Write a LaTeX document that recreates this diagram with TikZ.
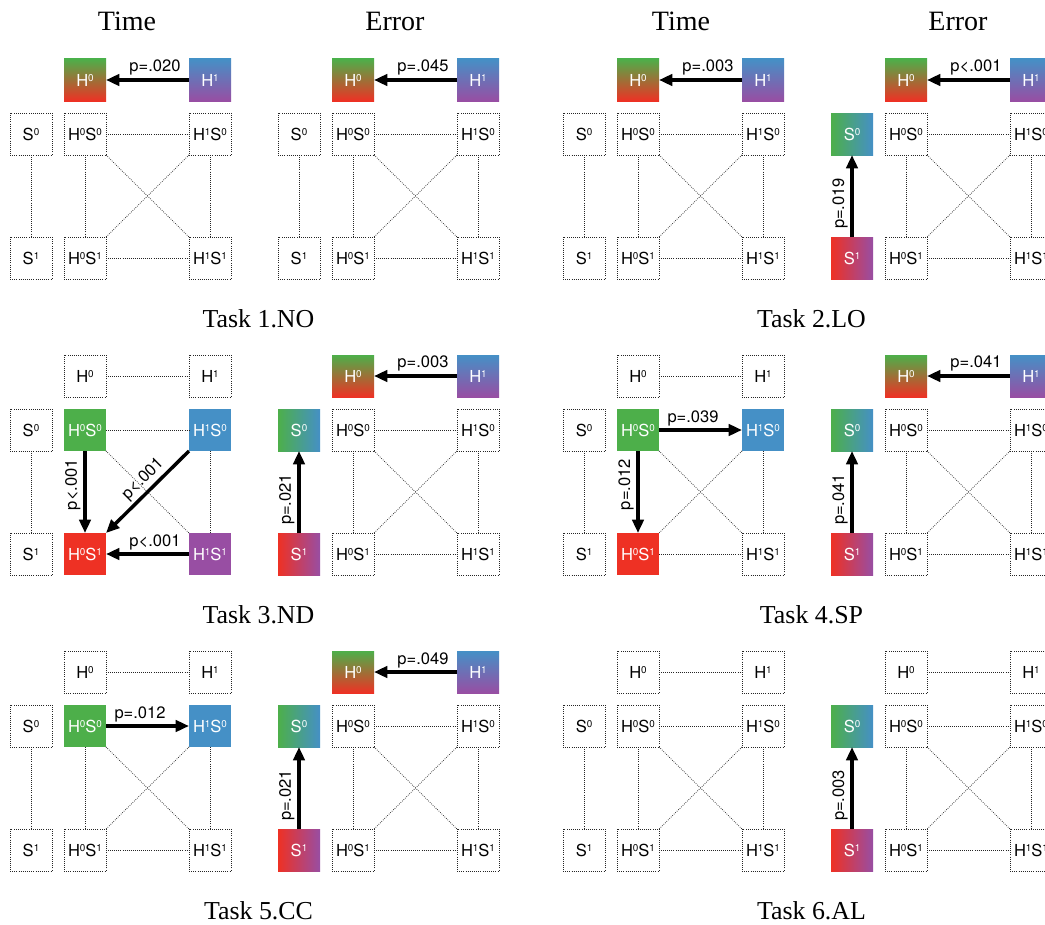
\documentclass[tikz,border=0pt]{standalone}
\usepackage{fontspec}
\setmainfont{Liberation Serif}
\newfontfamily\boxfont{TeX Gyre Heros}
\usetikzlibrary{arrows.meta}

\definecolor{cgreen}{HTML}{4DAF4A}
\definecolor{cblue}{HTML}{4590C6}
\definecolor{cred}{HTML}{EE3124}
\definecolor{cpurple}{HTML}{984EA3}

\newcommand\spx[1]{\raisebox{3.3pt}{\fontsize{7.4}{8}\selectfont#1}}

\tikzset{
  box/.style={minimum size=31.5pt, inner sep=0pt, outer sep=0pt, anchor=north west,
    font=\boxfont\fontsize{12.4}{14}\selectfont},
  dotbox/.style={box, draw=black!85, densely dotted, line width=0.6pt},
  fillbox/.style={box, text=white},
  gH0/.style={fillbox, top color=cgreen, bottom color=cred},
  gH1/.style={fillbox, top color=cblue, bottom color=cpurple},
  gS0/.style={fillbox, left color=cgreen, right color=cblue},
  gS1/.style={fillbox, left color=cred, right color=cpurple},
  cG/.style={fillbox, fill=cgreen},
  cB/.style={fillbox, fill=cblue},
  cR/.style={fillbox, fill=cred},
  cP/.style={fillbox, fill=cpurple},
  nH0/.style={dotbox}, nH1/.style={dotbox}, nS0/.style={dotbox}, nS1/.style={dotbox},
  nHSa/.style={dotbox}, nHSb/.style={dotbox}, nHSc/.style={dotbox}, nHSd/.style={dotbox},
  link/.style={densely dotted, line width=0.55pt, black!85},
  sig/.style={line width=2.6pt, -{Triangle[length=10pt,width=8.5pt]}},
  plab/.style={font=\boxfont\fontsize{12.4}{14}\selectfont, inner sep=1pt},
  hlab/.style={plab, pos=0.41, above=1pt},
  vlab/.style={plab, pos=0.41, rotate=90, anchor=south, inner ysep=2pt},
  ttl/.style={font=\fontsize{21}{24}\selectfont, anchor=base, inner sep=0pt},
  tsk/.style={font=\fontsize{19.4}{22}\selectfont, anchor=base, inner sep=0pt},
}

% #1 prefix, #2 x of panel left, #3 y of top row
\newcommand\panelnodes[3]{%
  \node[nH0] (#1H0) at (#2+54,#3) {H\spx0};
  \node[nH1] (#1H1) at (#2+179,#3) {H\spx1};
  \node[nS0] (#1S0) at (#2,#3+54) {S\spx0};
  \node[nS1] (#1S1) at (#2,#3+178) {S\spx1};
  \node[nHSa] (#1HSa) at (#2+54,#3+54) {H\spx0S\spx0};
  \node[nHSb] (#1HSb) at (#2+179,#3+54) {H\spx1S\spx0};
  \node[nHSc] (#1HSc) at (#2+54,#3+178) {H\spx0S\spx1};
  \node[nHSd] (#1HSd) at (#2+179,#3+178) {H\spx1S\spx1};
}
\newcommand\lkHH[1]{\draw[link] (#1H0.east) -- (#1H1.west);}
\newcommand\lkSS[1]{\draw[link] (#1S0.south) -- (#1S1.north);}
\newcommand\lkTop[1]{\draw[link] (#1HSa.east) -- (#1HSb.west);}
\newcommand\lkBot[1]{\draw[link] (#1HSc.east) -- (#1HSd.west);}
\newcommand\lkLft[1]{\draw[link] (#1HSa.south) -- (#1HSc.north);}
\newcommand\lkRgt[1]{\draw[link] (#1HSb.south) -- (#1HSd.north);}
\newcommand\lkDA[1]{\draw[link] (#1HSa.south east) -- (#1HSd.north west);}
\newcommand\lkDB[1]{\draw[link] (#1HSb.south west) -- (#1HSc.north east);}
\newcommand\lkGrid[1]{\lkTop{#1}\lkBot{#1}\lkLft{#1}\lkRgt{#1}\lkDA{#1}\lkDB{#1}}

\begin{document}
\begin{tikzpicture}[x=0.75pt,y=-0.75pt]
\clip (0,0) rectangle (1045,924);
\fill[white] (0,0) rectangle (1045,924);

% titles
\node[ttl] (t1) at (127,31) {Time};
\node[ttl] (t2) at (395,31) {Error};
\node[ttl] (t3) at (681,31) {Time};
\node[ttl] (t4) at (958,31) {Error};

\node[tsk] (k1) at (258.5,327) {Task 1.NO};
\node[tsk] (k2) at (811.5,327) {Task 2.LO};
\node[tsk] (k3) at (258.5,623) {Task 3.ND};
\node[tsk] (k4) at (811.5,623) {Task 4.SP};
\node[tsk] (k5) at (258.5,919) {Task 5.CC};
\node[tsk] (k6) at (811.5,919) {Task 6.AL};

% ---------- Task 1 Time
\begin{scope}[nH0/.style={gH0}, nH1/.style={gH1}]
\panelnodes{a}{10}{59}
\end{scope}
\lkSS{a}\lkGrid{a}
\draw[sig] (aH1.west) -- (aH0.east) node[hlab] {p=.020};

% ---------- Task 1 Error
\begin{scope}[nH0/.style={gH0}, nH1/.style={gH1}]
\panelnodes{b}{278}{59}
\end{scope}
\lkSS{b}\lkGrid{b}
\draw[sig] (bH1.west) -- (bH0.east) node[hlab] {p=.045};

% ---------- Task 2 Time
\begin{scope}[nH0/.style={gH0}, nH1/.style={gH1}]
\panelnodes{c}{563}{59}
\end{scope}
\lkSS{c}\lkGrid{c}
\draw[sig] (cH1.west) -- (cH0.east) node[hlab] {p=.003};

% ---------- Task 2 Error
\begin{scope}[nH0/.style={gH0}, nH1/.style={gH1}, nS0/.style={gS0}, nS1/.style={gS1}]
\panelnodes{d}{831}{59}
\end{scope}
\lkGrid{d}
\draw[sig] (dH1.west) -- (dH0.east) node[hlab] {p<.001};
\draw[sig] (dS1.north) -- (dS0.south) node[vlab] {p=.019};

% ---------- Task 3 Time
\begin{scope}[nHSa/.style={cG}, nHSb/.style={cB}, nHSc/.style={cR}, nHSd/.style={cP}]
\panelnodes{e}{10}{355}
\end{scope}
\lkHH{e}\lkSS{e}\lkTop{e}\lkRgt{e}\lkDA{e}
\draw[sig] (eHSa.south) -- (eHSc.north) node[vlab] {p<.001};
\draw[sig] (eHSb.south west) -- (eHSc.north east) node[plab, pos=0.45, sloped, above=1pt] {p<.001};
\draw[sig] (eHSd.west) -- (eHSc.east) node[hlab] {p<.001};

% ---------- Task 3 Error
\begin{scope}[nH0/.style={gH0}, nH1/.style={gH1}, nS0/.style={gS0}, nS1/.style={gS1}]
\panelnodes{f}{278}{355}
\end{scope}
\lkGrid{f}
\draw[sig] (fH1.west) -- (fH0.east) node[hlab] {p=.003};
\draw[sig] (fS1.north) -- (fS0.south) node[vlab] {p=.021};

% ---------- Task 4 Time
\begin{scope}[nHSa/.style={cG}, nHSb/.style={cB}, nHSc/.style={cR}]
\panelnodes{g}{563}{355}
\end{scope}
\lkHH{g}\lkSS{g}\lkBot{g}\lkRgt{g}\lkDA{g}\lkDB{g}
\draw[sig] (gHSa.east) -- (gHSb.west) node[hlab] {p=.039};
\draw[sig] (gHSa.south) -- (gHSc.north) node[vlab] {p=.012};

% ---------- Task 4 Error
\begin{scope}[nH0/.style={gH0}, nH1/.style={gH1}, nS0/.style={gS0}, nS1/.style={gS1}]
\panelnodes{h}{831}{355}
\end{scope}
\lkGrid{h}
\draw[sig] (hH1.west) -- (hH0.east) node[hlab] {p=.041};
\draw[sig] (hS1.north) -- (hS0.south) node[vlab] {p=.041};

% ---------- Task 5 Time
\begin{scope}[nHSa/.style={cG}, nHSb/.style={cB}]
\panelnodes{i}{10}{651}
\end{scope}
\lkHH{i}\lkSS{i}\lkBot{i}\lkLft{i}\lkRgt{i}\lkDA{i}\lkDB{i}
\draw[sig] (iHSa.east) -- (iHSb.west) node[hlab] {p=.012};

% ---------- Task 5 Error
\begin{scope}[nH0/.style={gH0}, nH1/.style={gH1}, nS0/.style={gS0}, nS1/.style={gS1}]
\panelnodes{j}{278}{651}
\end{scope}
\lkGrid{j}
\draw[sig] (jH1.west) -- (jH0.east) node[hlab] {p=.049};
\draw[sig] (jS1.north) -- (jS0.south) node[vlab] {p=.021};

% ---------- Task 6 Time
\panelnodes{k}{563}{651}
\lkHH{k}\lkSS{k}\lkGrid{k}

% ---------- Task 6 Error
\begin{scope}[nS0/.style={gS0}, nS1/.style={gS1}]
\panelnodes{l}{831}{651}
\end{scope}
\lkHH{l}\lkGrid{l}
\draw[sig] (lS1.north) -- (lS0.south) node[vlab] {p=.003};
\end{tikzpicture}
\end{document}
